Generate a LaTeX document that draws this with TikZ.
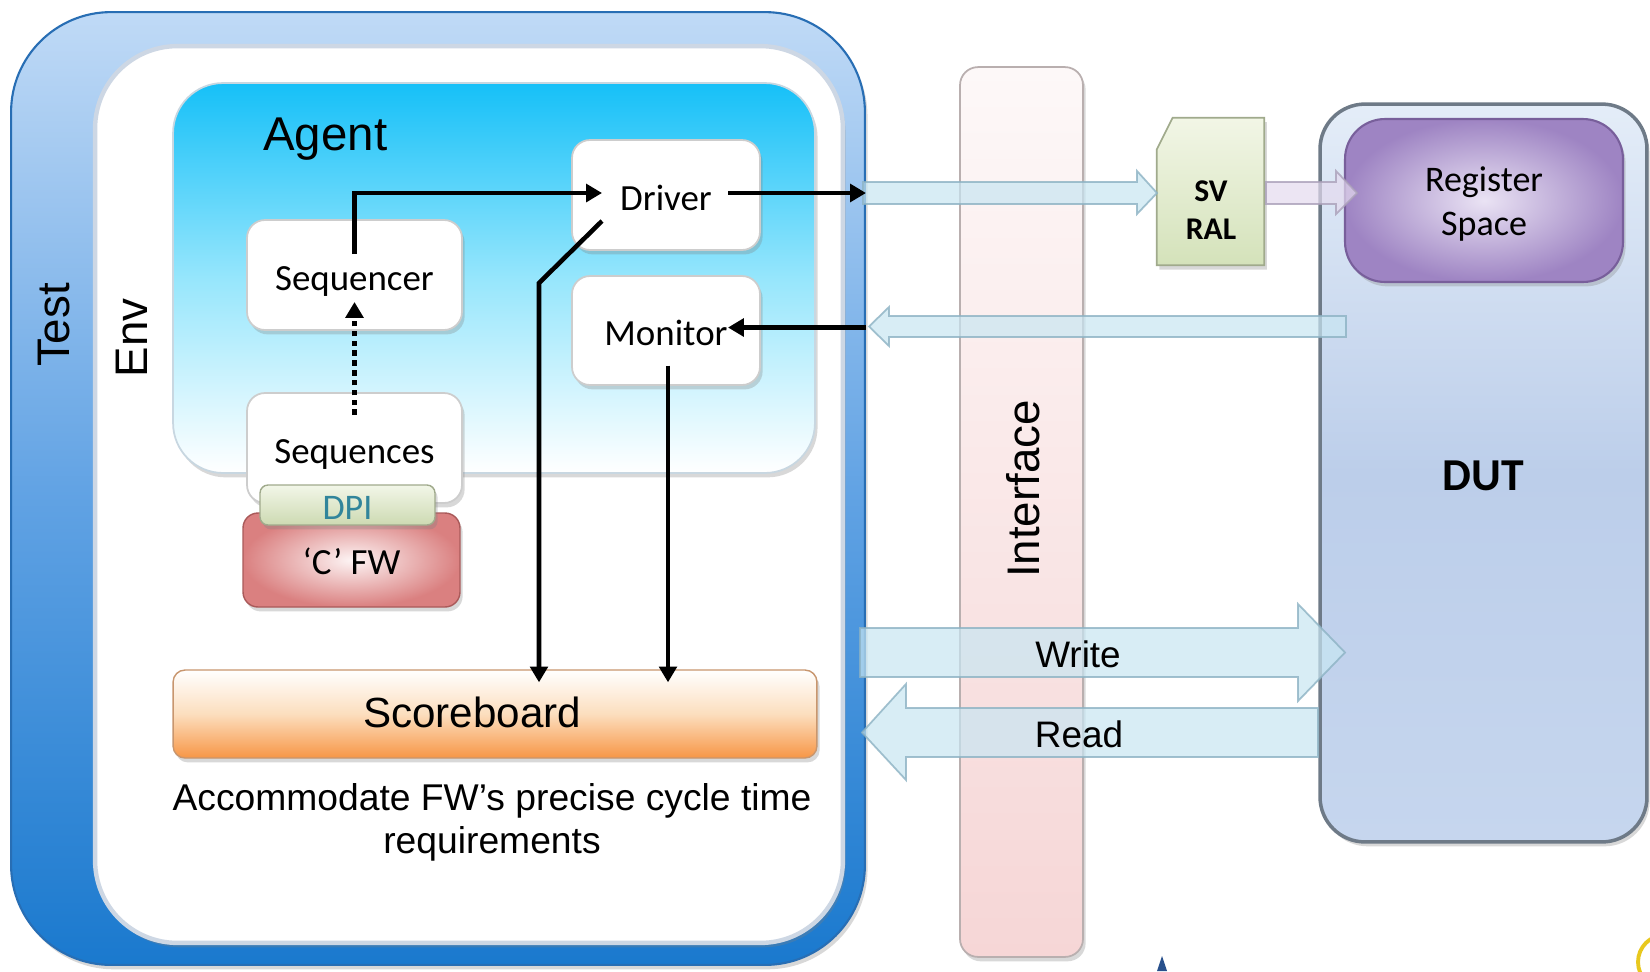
\documentclass[tikz,border=0pt]{standalone}
\usepackage{fontspec}
\setmainfont{Liberation Sans}
\newfontfamily\calfont{Carlito}
\usetikzlibrary{arrows.meta,calc,shadows}
\newcommand{\myfs}[2]{\fontsize{#1}{#2}\selectfont}
\definecolor{testtop}{RGB}{192,218,246}
\definecolor{testmid}{RGB}{98,163,228}
\definecolor{testbot}{RGB}{26,121,206}
\definecolor{testedge}{RGB}{40,110,180}
\definecolor{envedge}{RGB}{205,215,228}
\definecolor{agenttop}{RGB}{22,192,248}
\definecolor{agentmid}{RGB}{150,230,252}
\definecolor{agentedge}{RGB}{200,215,225}
\definecolor{boxedge}{RGB}{205,205,205}
\definecolor{dpitop}{RGB}{242,246,232}
\definecolor{dpibot}{RGB}{205,218,178}
\definecolor{dpiedge}{RGB}{160,170,140}
\definecolor{dpitext}{RGB}{49,133,155}
\definecolor{cfwin}{RGB}{253,244,244}
\definecolor{cfwout}{RGB}{218,128,128}
\definecolor{cfwedge}{RGB}{170,90,90}
\definecolor{sbbot}{RGB}{247,150,70}
\definecolor{sbmid}{RGB}{252,222,190}
\definecolor{sbedge}{RGB}{200,150,110}
\definecolor{iftop}{RGB}{253,248,248}
\definecolor{ifbot}{RGB}{246,214,214}
\definecolor{ifedge}{RGB}{185,175,175}
\definecolor{svtop}{RGB}{242,246,230}
\definecolor{svbot}{RGB}{212,226,186}
\definecolor{svedge}{RGB}{160,170,140}
\definecolor{duttop}{RGB}{228,237,248}
\definecolor{dutmid}{RGB}{188,206,234}
\definecolor{dutbot}{RGB}{198,214,238}
\definecolor{dutedge}{RGB}{110,122,135}
\definecolor{regin}{RGB}{234,227,244}
\definecolor{regout}{RGB}{158,132,195}
\definecolor{regedge}{RGB}{120,95,155}
\definecolor{bafill}{RGB}{200,230,242}
\definecolor{baedge}{RGB}{140,178,195}
\definecolor{bpfill}{RGB}{228,218,238}
\definecolor{bpedge}{RGB}{170,160,185}
\definecolor{artblue}{RGB}{40,80,140}
\definecolor{artyellow}{RGB}{232,200,30}
\tikzset{
  px/.style={x=0.02cm,y=-0.02cm},
  shad/.style={drop shadow={shadow xshift=1.5pt,shadow yshift=-2.5pt,opacity=0.3}},
  wbox/.style={rectangle, rounded corners=0.36cm, draw=boxedge, line width=1pt, fill=white, shad,
    font=\calfont\myfs{21pt}{25pt}, text height=17.5pt, text depth=0pt, inner sep=0pt},
  conn/.style={line width=2.6pt, -{Triangle[length=9pt,width=10pt]}},
  dotconn/.style={line width=2.8pt, dash pattern=on 3.2pt off 2.4pt, -{Triangle[length=9pt,width=10pt]}},
  barrow/.style={fill=bafill, fill opacity=0.7, draw=baedge, draw opacity=0.8, line width=1pt},
  parrow/.style={fill=bpfill, fill opacity=0.7, draw=bpedge, draw opacity=0.8, line width=1pt},
  bigtxt/.style={font=\myfs{26pt}{31pt}, inner sep=0pt},
  midtxt/.style={font=\myfs{21pt}{25pt}, inner sep=0pt},
}
\begin{document}
\begin{tikzpicture}[px]
\useasboundingbox (0,0) rectangle (1650,971);
\clip (0,0) rectangle (1650,971);
\fill[white] (0,0) rectangle (1650,971);

% Test
\node[draw=testedge, line width=1.2pt, rounded corners=2cm, top color=testtop, bottom color=testbot, middle color=testmid,
  minimum width=17.08cm, minimum height=19.06cm, shad] (test) at (438,488.5) {};
\node[bigtxt, rotate=90] (testl) at (54,325) {Test};

% Env
\node[draw=envedge, line width=2.5pt, rounded corners=1.65cm, fill=white,
  minimum width=14.96cm, minimum height=17.94cm, shad] (env) at (469,494.5) {};
\node[bigtxt, rotate=90] (envl) at (132,338) {Env};

% Agent
\node[draw=agentedge, line width=1pt, rounded corners=1cm, top color=agenttop, bottom color=white, middle color=agentmid,
  minimum width=12.84cm, minimum height=7.8cm, shad] (agent) at (494,278) {};
\node[font=\myfs{27pt}{32pt}, inner sep=0pt, anchor=base west] (agentl) at (263,150) {Agent};

% components
\node[wbox, minimum width=3.76cm, minimum height=2.2cm] (drv) at (666,195) {Driver};
\node[wbox, minimum width=3.76cm, minimum height=2.18cm] (mon) at (666,330.5) {Monitor};
\node[wbox, minimum width=4.3cm, minimum height=2.2cm] (seqr) at (354.5,275) {Sequencer};
\node[wbox, minimum width=4.3cm, minimum height=2.2cm] (seqs) at (354.5,448) {Sequences};

\node[rounded corners=0.3cm, draw=cfwedge, line width=0.8pt, shading=radial, inner color=cfwin, outer color=cfwout,
  minimum width=4.34cm, minimum height=1.88cm, font=\calfont\myfs{21pt}{25pt}, text height=16pt, text depth=0pt, inner sep=0pt, shad] (cfw) at (351.5,560) {‘C’ FW};
\node[rounded corners=0.16cm, draw=dpiedge, line width=0.8pt, top color=dpitop, bottom color=dpibot,
  minimum width=3.5cm, minimum height=0.8cm, text=dpitext, font=\calfont\myfs{20.5pt}{24pt}, text height=17pt, text depth=0pt, inner sep=0pt, shad] (dpi) at (347.5,505) {DPI};

% Scoreboard
\node[rounded corners=0.24cm, draw=sbedge, line width=0.8pt, top color=white, bottom color=sbbot, middle color=sbmid,
  minimum width=12.88cm, minimum height=1.76cm, shad] (sb) at (495,714) {};
\node[font=\myfs{24pt}{28pt}, inner sep=0pt] (sbl) at (472,712.5) {Scoreboard};

\node[font=\myfs{21.2pt}{25pt}, inner sep=0pt, anchor=base] (cap1) at (492,810) {Accommodate FW’s precise cycle time};
\node[font=\myfs{21.2pt}{25pt}, inner sep=0pt, anchor=base] (cap2) at (492,853) {requirements};

% Interface
\node[rounded corners=0.36cm, draw=ifedge, line width=1pt, top color=iftop, bottom color=ifbot,
  minimum width=2.46cm, minimum height=17.8cm, shad] (intf) at (1021.5,512) {};
\node[bigtxt, rotate=90] (intfl) at (1023,489) {Interface};

% SV RAL
\node[minimum width=2.14cm, minimum height=2.94cm, inner sep=0pt] (svral) at (1210.5,191.5) {};
\draw[draw=svedge, line width=1pt, top color=svtop, bottom color=svbot, shad]
  ($(svral.north west)+(0,32)$) -- ($(svral.north west)+(16,0)$) -- (svral.north east)
  -- (svral.south east) -- (svral.south west) -- cycle;
\node[font=\calfont\bfseries\myfs{18pt}{21.5pt}, align=center, inner sep=0pt] (svt) at (1211,210.5) {SV\\RAL};

% DUT
\node[rounded corners=0.9cm, draw=dutedge, line width=2pt, top color=duttop, bottom color=dutbot, middle color=dutmid,
  minimum width=6.54cm, minimum height=14.76cm, shad] (dut) at (1483.5,473) {};
\node[font=\calfont\bfseries\myfs{26pt}{31pt}, inner sep=0pt] (dutl) at (1483,476) {DUT};

% Register space
\node[rounded corners=0.8cm, draw=regedge, line width=1.2pt, shading=radial, inner color=regin, outer color=regout,
  minimum width=5.56cm, minimum height=3.26cm, shad] (reg) at (1484,200.5) {};
\node[align=center, font=\calfont\myfs{20.5pt}{25.5pt}, inner sep=0pt] (regl) at (1484,204) {Register\\Space};

% block arrows
\draw[barrow] (863,182) -- (1137,182) -- (1137,171) -- (1157,193) -- (1137,214) -- (1137,204) -- (863,204) -- cycle;
\draw[parrow] (1266,182) -- (1336,182) -- (1336,171) -- (1357,193) -- (1336,214) -- (1336,204) -- (1266,204) -- cycle;
\draw[barrow] (1346,316) -- (889,316) -- (889,307) -- (869,326.5) -- (889,346) -- (889,337) -- (1346,337) -- cycle;
\draw[barrow] (860,628) -- (1298,628) -- (1298,604) -- (1345,652.5) -- (1298,701) -- (1298,677) -- (860,677) -- cycle;
\draw[barrow] (1318,708) -- (906,708) -- (906,684) -- (862,732.5) -- (906,780) -- (906,757) -- (1318,757) -- cycle;
\node[midtxt] (wr) at (1078,654) {Write};
\node[midtxt] (rd) at (1079,734) {Read};

% connectors
\draw[conn] ($(seqr.center)+(0,-21)$) |- ($(drv.center)+(-64,-2)$);
\draw[conn] ($(drv.center)+(62,-2)$) coordinate (d1) -- (d1 -| test.east);
\coordinate (m1) at ($(mon.center)+(62,-3)$);
\draw[conn] (m1 -| test.east) -- (m1);
\coordinate (d2) at ($(drv.center)+(-127,88)$);
\draw[conn] ($(drv.center)+(-64,26)$) -- (d2) -- ($(d2 |- sb.north)+(0,13)$);
\coordinate (m2) at ($(mon.center)+(2,35)$);
\draw[conn] (m2) -- ($(m2 |- sb.north)+(0,13)$);
\draw[dotconn] ($(seqs.center)+(0,-33)$) -- ($(seqr.center)+(0,27)$);

% edge artifacts
\fill[artblue] (1157,971) -- (1162,956) -- (1167,971) -- cycle;
\draw[artyellow, line width=2.2pt] (1665,962) circle[radius=0.54cm];
\end{tikzpicture}
\end{document}
